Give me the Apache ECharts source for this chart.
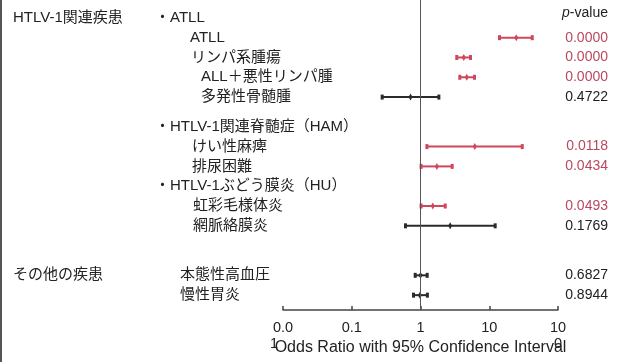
<!DOCTYPE html>
<html><head><meta charset="utf-8">
<script src="https://cdn.jsdelivr.net/npm/echarts@6/dist/echarts.min.js"></script>
<style>html,body{margin:0;padding:0;background:#fff}#c{width:620px;height:362px}</style>
</head><body><div id="c"></div>
<script>
// ---- data ----
const groupLabels = ['HTLV-1関連疾患','','','','','','','','','','','その他の疾患',''];
const rowLabels = ['・ATLL','ATLL','リンパ系腫瘍','ALL＋悪性リンパ腫','多発性骨髄腫','・HTLV-1関連脊髄症（HAM）','けい性麻痺','排尿困難','・HTLV-1ぶどう膜炎（HU）','虹彩毛様体炎','網脈絡膜炎','本態性高血圧','慢性胃炎'];
const oddsRatio = [null,24.7,4.26,4.71,0.716,null,6.16,1.73,null,1.51,2.70,1.0,0.98];
const ciLower   = [null,14.1,3.37,3.73,0.277,null,1.24,1.02,null,1.02,0.605,0.837,0.791];
const ciUpper   = [null,42.2,5.34,6.10,1.85,null,30.2,2.89,null,2.29,12.2,1.25,1.26];
const pValues   = ['','0.0000','0.0000','0.0000','0.4722','','0.0118','0.0434','','0.0493','0.1769','0.6827','0.8944'];
const tickValues = [0.01,0.1,1,10,100];
const tickLabels = ['0.0\n1','0.1','1','10','10\n0'];
const axisTitle = 'Odds Ratio with 95% Confidence Interval';
const pHeader = 'p-value';

// ---- layout ----
const rowSlot = [2,4,6,8,10,13,15,17,19,21,23,28,30];
const slotCount = 32;
const indent = [142,177,178,188,188,142,179,179,142,180,180,167,167];
const RED = '#d0465b', RED_TXT = '#b9485f', DARK = '#2b2b2b', TXT = '#222';
const FONT = '"Liberation Sans", "Noto Sans CJK JP", sans-serif';

const cats = Array.from({length: slotCount}, (_, i) => 's' + i);
const slotToRow = {};
rowSlot.forEach((s, r) => { slotToRow[s] = r; });

const rich = {
  pi: {fontSize: 14, color: TXT, fontFamily: FONT, fontStyle: 'italic', padding: [0,0,10,0]},
  pv: {fontSize: 14, color: TXT, fontFamily: FONT, padding: [0,0,10,0]},
  pr: {fontSize: 14, color: RED_TXT, fontFamily: FONT},
  pk: {fontSize: 14, color: TXT, fontFamily: FONT}
};
rowLabels.forEach((t, r) => {
  rich['t' + r] = {fontSize: 15, color: TXT, fontFamily: FONT, padding: groupLabels[r] ? 0 : [0,0,0,indent[r]]};
  rich['g' + r] = {fontSize: 15, color: TXT, fontFamily: FONT, width: indent[r]};
});

const barData = [];
rowLabels.forEach((t, r) => {
  if (oddsRatio[r] == null) return;
  const sig = parseFloat(pValues[r]) < 0.05 ? 1 : 0;
  barData.push([rowSlot[r], ciLower[r], oddsRatio[r], ciUpper[r], sig]);
});

const chart = echarts.init(document.getElementById('c'), null, {renderer: 'canvas'});
chart.setOption({
  animation: false,
  backgroundColor: '#fff',
  textStyle: {fontFamily: FONT},
  grid: {left: 283, right: 62, top: -6.9, bottom: 52, containLabel: false, outerBoundsMode: 'none'},
  xAxis: {
    type: 'log', logBase: 10, min: 0.01, max: 100,
    name: axisTitle, nameLocation: 'middle', nameGap: 30, nameMoveOverlap: false,
    nameTextStyle: {fontSize: 16, color: TXT, fontFamily: FONT},
    axisLine: {show: true, lineStyle: {color: '#444', width: 1.5}},
    axisTick: {show: true, inside: true, length: 4, lineStyle: {color: '#444', width: 1.5}},
    minorTick: {show: false},
    splitLine: {show: false},
    axisLabel: {
      margin: 10, fontSize: 14.5, color: TXT, lineHeight: 16, fontFamily: FONT,
      formatter: v => {
        const i = Math.round(Math.log10(v)) + 2;
        const t = tickLabels[i];
        if (t == null) return '';
        const parts = t.split('\n');
        if (parts.length === 1) return '{m|' + t + '}';
        return '{m|' + parts[0] + '}\n{' + (i === 0 ? 'l' : 'm') + '|' + parts[1] + '}';
      },
      rich: {
        m: {fontSize: 14.5, color: TXT, lineHeight: 16, fontFamily: FONT},
        l: {fontSize: 14.5, color: TXT, lineHeight: 16, fontFamily: FONT, padding: [0,18,0,0]}
      }
    }
  },
  yAxis: [{
    type: 'category', inverse: true, data: cats, position: 'left',
    axisLine: {show: false}, axisTick: {show: false}, splitLine: {show: false},
    axisLabel: {
      interval: 0, align: 'left', margin: 270,
      formatter: (v, idx) => {
        const r = slotToRow[idx];
        if (r == null) return '';
        if (groupLabels[r]) return '{g' + r + '|' + groupLabels[r] + '}{t' + r + '|' + rowLabels[r] + '}';
        return '{t' + r + '|' + rowLabels[r] + '}';
      },
      rich: rich
    }
  }, {
    type: 'category', inverse: true, data: cats, position: 'right',
    axisLine: {show: false}, axisTick: {show: false}, splitLine: {show: false},
    axisLabel: {
      interval: 0, align: 'right', margin: 50,
      formatter: (v, idx) => {
        const r = slotToRow[idx];
        if (r == null) return '';
        if (r === 0) return '{pi|' + pHeader.slice(0,1) + '}{pv|' + pHeader.slice(1) + '}';
        if (!pValues[r]) return '';
        return (parseFloat(pValues[r]) < 0.05 ? '{pr|' : '{pk|') + pValues[r] + '}';
      },
      rich: rich
    }
  }],
  graphic: [{type: 'rect', left: 0, top: 0, shape: {x: 0, y: 0, width: 2, height: 362}, style: {fill: '#555'}, silent: true}],
  series: [{
    type: 'custom',
    coordinateSystem: 'cartesian2d',
    encode: {x: [1, 2, 3], y: 0},
    clip: false,
    renderItem: (params, api) => {
      const slot = api.value(0);
      const lo = api.coord([api.value(1), slot]);
      const mid = api.coord([api.value(2), slot]);
      const hi = api.coord([api.value(3), slot]);
      const col = api.value(4) ? RED : DARK;
      const y = lo[1];
      return {type: 'group', children: [
        {type: 'line', shape: {x1: lo[0], y1: y, x2: hi[0], y2: y}, style: {stroke: col, lineWidth: 2}},
        {type: 'rect', shape: {x: lo[0] - 1.5, y: y - 2.5, width: 3, height: 5}, style: {fill: col}},
        {type: 'rect', shape: {x: hi[0] - 1.5, y: y - 2.5, width: 3, height: 5}, style: {fill: col}},
        {type: 'polygon', shape: {points: [[mid[0], y - 3.5], [mid[0] + 2, y], [mid[0], y + 3.5], [mid[0] - 2, y]]}, style: {fill: col}}
      ]};
    },
    data: barData,
    markLine: {
      silent: true, symbol: 'none', label: {show: false},
      lineStyle: {color: '#555', width: 1, type: 'solid'},
      data: [{xAxis: 1}]
    }
  }]
});
</script></body></html>
